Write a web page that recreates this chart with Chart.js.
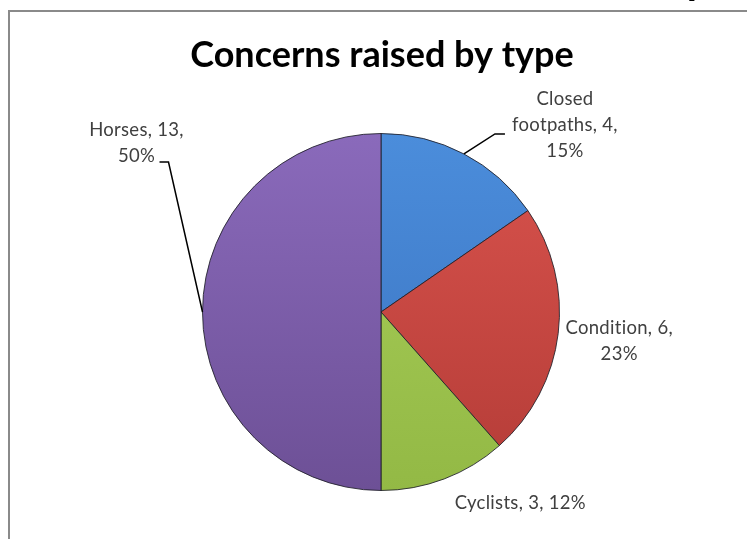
<!DOCTYPE html>
<html>
<head>
<meta charset="utf-8">
<script src="https://cdn.jsdelivr.net/npm/chart.js@4.4.0/dist/chart.umd.min.js"></script>
<style>
  html, body { margin: 0; padding: 0; background: #ffffff; }
  #wrap { position: relative; width: 747px; height: 539px; }
  canvas { display: block; }
</style>
</head>
<body>
<div id="wrap"><canvas id="c" width="747" height="539"></canvas></div>
<script>
const chartTitle = 'Concerns raised by type';
const categories = ['Closed footpaths', 'Condition', 'Cyclists', 'Horses'];
const values = [4, 6, 3, 13];
const colorsTop = ['#4b8ddb', '#d9534d', '#a9cf5a', '#8a6abb'];
const colorsBottom = ['#3a72bf', '#b43c37', '#93b945', '#6d5096'];

// label placement (relative to the slice's outer-edge midpoint) and wrap widths
const labelStyle = [
  { dx: 101, dy: -29, wrap: 125, leader: [[31, -20], [41, -20]] },
  { dx: 61, dy: 8, wrap: 135, leader: null },
  { dx: 76, dy: 24, wrap: 260, leader: null },
  { dx: -66, dy: -169, wrap: 118, leader: [[-34, -150], [-43, -150]] }
];

const total = values.reduce((a, b) => a + b, 0);

function wrapText(ctx, text, maxW) {
  const words = text.split(' ');
  const lines = [];
  let cur = '';
  for (const w of words) {
    const test = cur ? cur + ' ' + w : w;
    if (cur && ctx.measureText(test).width > maxW) {
      lines.push(cur);
      cur = w;
    } else {
      cur = test;
    }
  }
  if (cur) lines.push(cur);
  return lines;
}

const decorPlugin = {
  id: 'decor',
  beforeDraw(chart) {
    const ctx = chart.ctx;
    ctx.save();
    ctx.fillStyle = '#ffffff';
    ctx.fillRect(0, 0, chart.width, chart.height);
    // frame
    ctx.fillStyle = '#8a8a8a';
    ctx.fillRect(8, 10, chart.width, 2);
    ctx.fillRect(8, 10, 2, chart.height);
    // cut-off heading glyph at top right
    ctx.fillStyle = '#000000';
    ctx.font = 'bold 44px Lato';
    ctx.textBaseline = 'alphabetic';
    ctx.textAlign = 'left';
    ctx.fillText('y', 684, -6);
    // title
    ctx.fillStyle = '#000000';
    ctx.font = 'bold 36px Lato';
    ctx.textAlign = 'center';
    ctx.textBaseline = 'middle';
    ctx.fillText(chartTitle, 382, 55);
    ctx.restore();
  },
  afterDatasetsDraw(chart) {
    const ctx = chart.ctx;
    const meta = chart.getDatasetMeta(0);
    ctx.save();
    ctx.font = '18.5px Lato';
    try { ctx.letterSpacing = '0.3px'; } catch (e) {}
    ctx.fillStyle = '#404040';
    ctx.textAlign = 'center';
    ctx.textBaseline = 'middle';
    meta.data.forEach((arc, i) => {
      const p = arc.getProps(['x', 'y', 'startAngle', 'endAngle', 'outerRadius'], true);
      const mid = (p.startAngle + p.endAngle) / 2;
      const ex = p.x + Math.cos(mid) * p.outerRadius;
      const ey = p.y + Math.sin(mid) * p.outerRadius;
      const st = labelStyle[i];
      const pct = Math.round(values[i] / total * 100);
      const text = categories[i] + ', ' + values[i] + ', ' + pct + '%';
      const lines = wrapText(ctx, text, st.wrap);
      const lh = 26;
      const cx = ex + st.dx;
      const cy = ey + st.dy;
      lines.forEach((ln, k) => {
        ctx.fillText(ln, cx, cy + (k - (lines.length - 1) / 2) * lh);
      });
      if (st.leader) {
        ctx.strokeStyle = '#000000';
        ctx.lineWidth = 1.5;
        ctx.beginPath();
        ctx.moveTo(ex, ey);
        st.leader.forEach(pt => ctx.lineTo(ex + pt[0], ey + pt[1]));
        ctx.stroke();
      }
    });
    ctx.restore();
  }
};

function sliceFill(context) {
  const chart = context.chart;
  const area = chart.chartArea;
  const i = context.dataIndex;
  if (!area) return colorsTop[i];
  const g = chart.ctx.createLinearGradient(0, area.top, 0, area.bottom);
  g.addColorStop(0, colorsTop[i]);
  g.addColorStop(1, colorsBottom[i]);
  return g;
}

new Chart(document.getElementById('c'), {
  type: 'pie',
  data: {
    labels: categories,
    datasets: [{
      data: values,
      backgroundColor: sliceFill,
      borderColor: 'rgba(30,30,40,0.85)',
      borderWidth: 1
    }]
  },
  options: {
    responsive: false,
    animation: false,
    layout: { padding: { left: 202, right: 187, top: 133, bottom: 48 } },
    plugins: {
      legend: { display: false },
      title: { display: false },
      tooltip: { enabled: false }
    }
  },
  plugins: [decorPlugin]
});
</script>
</body>
</html>
